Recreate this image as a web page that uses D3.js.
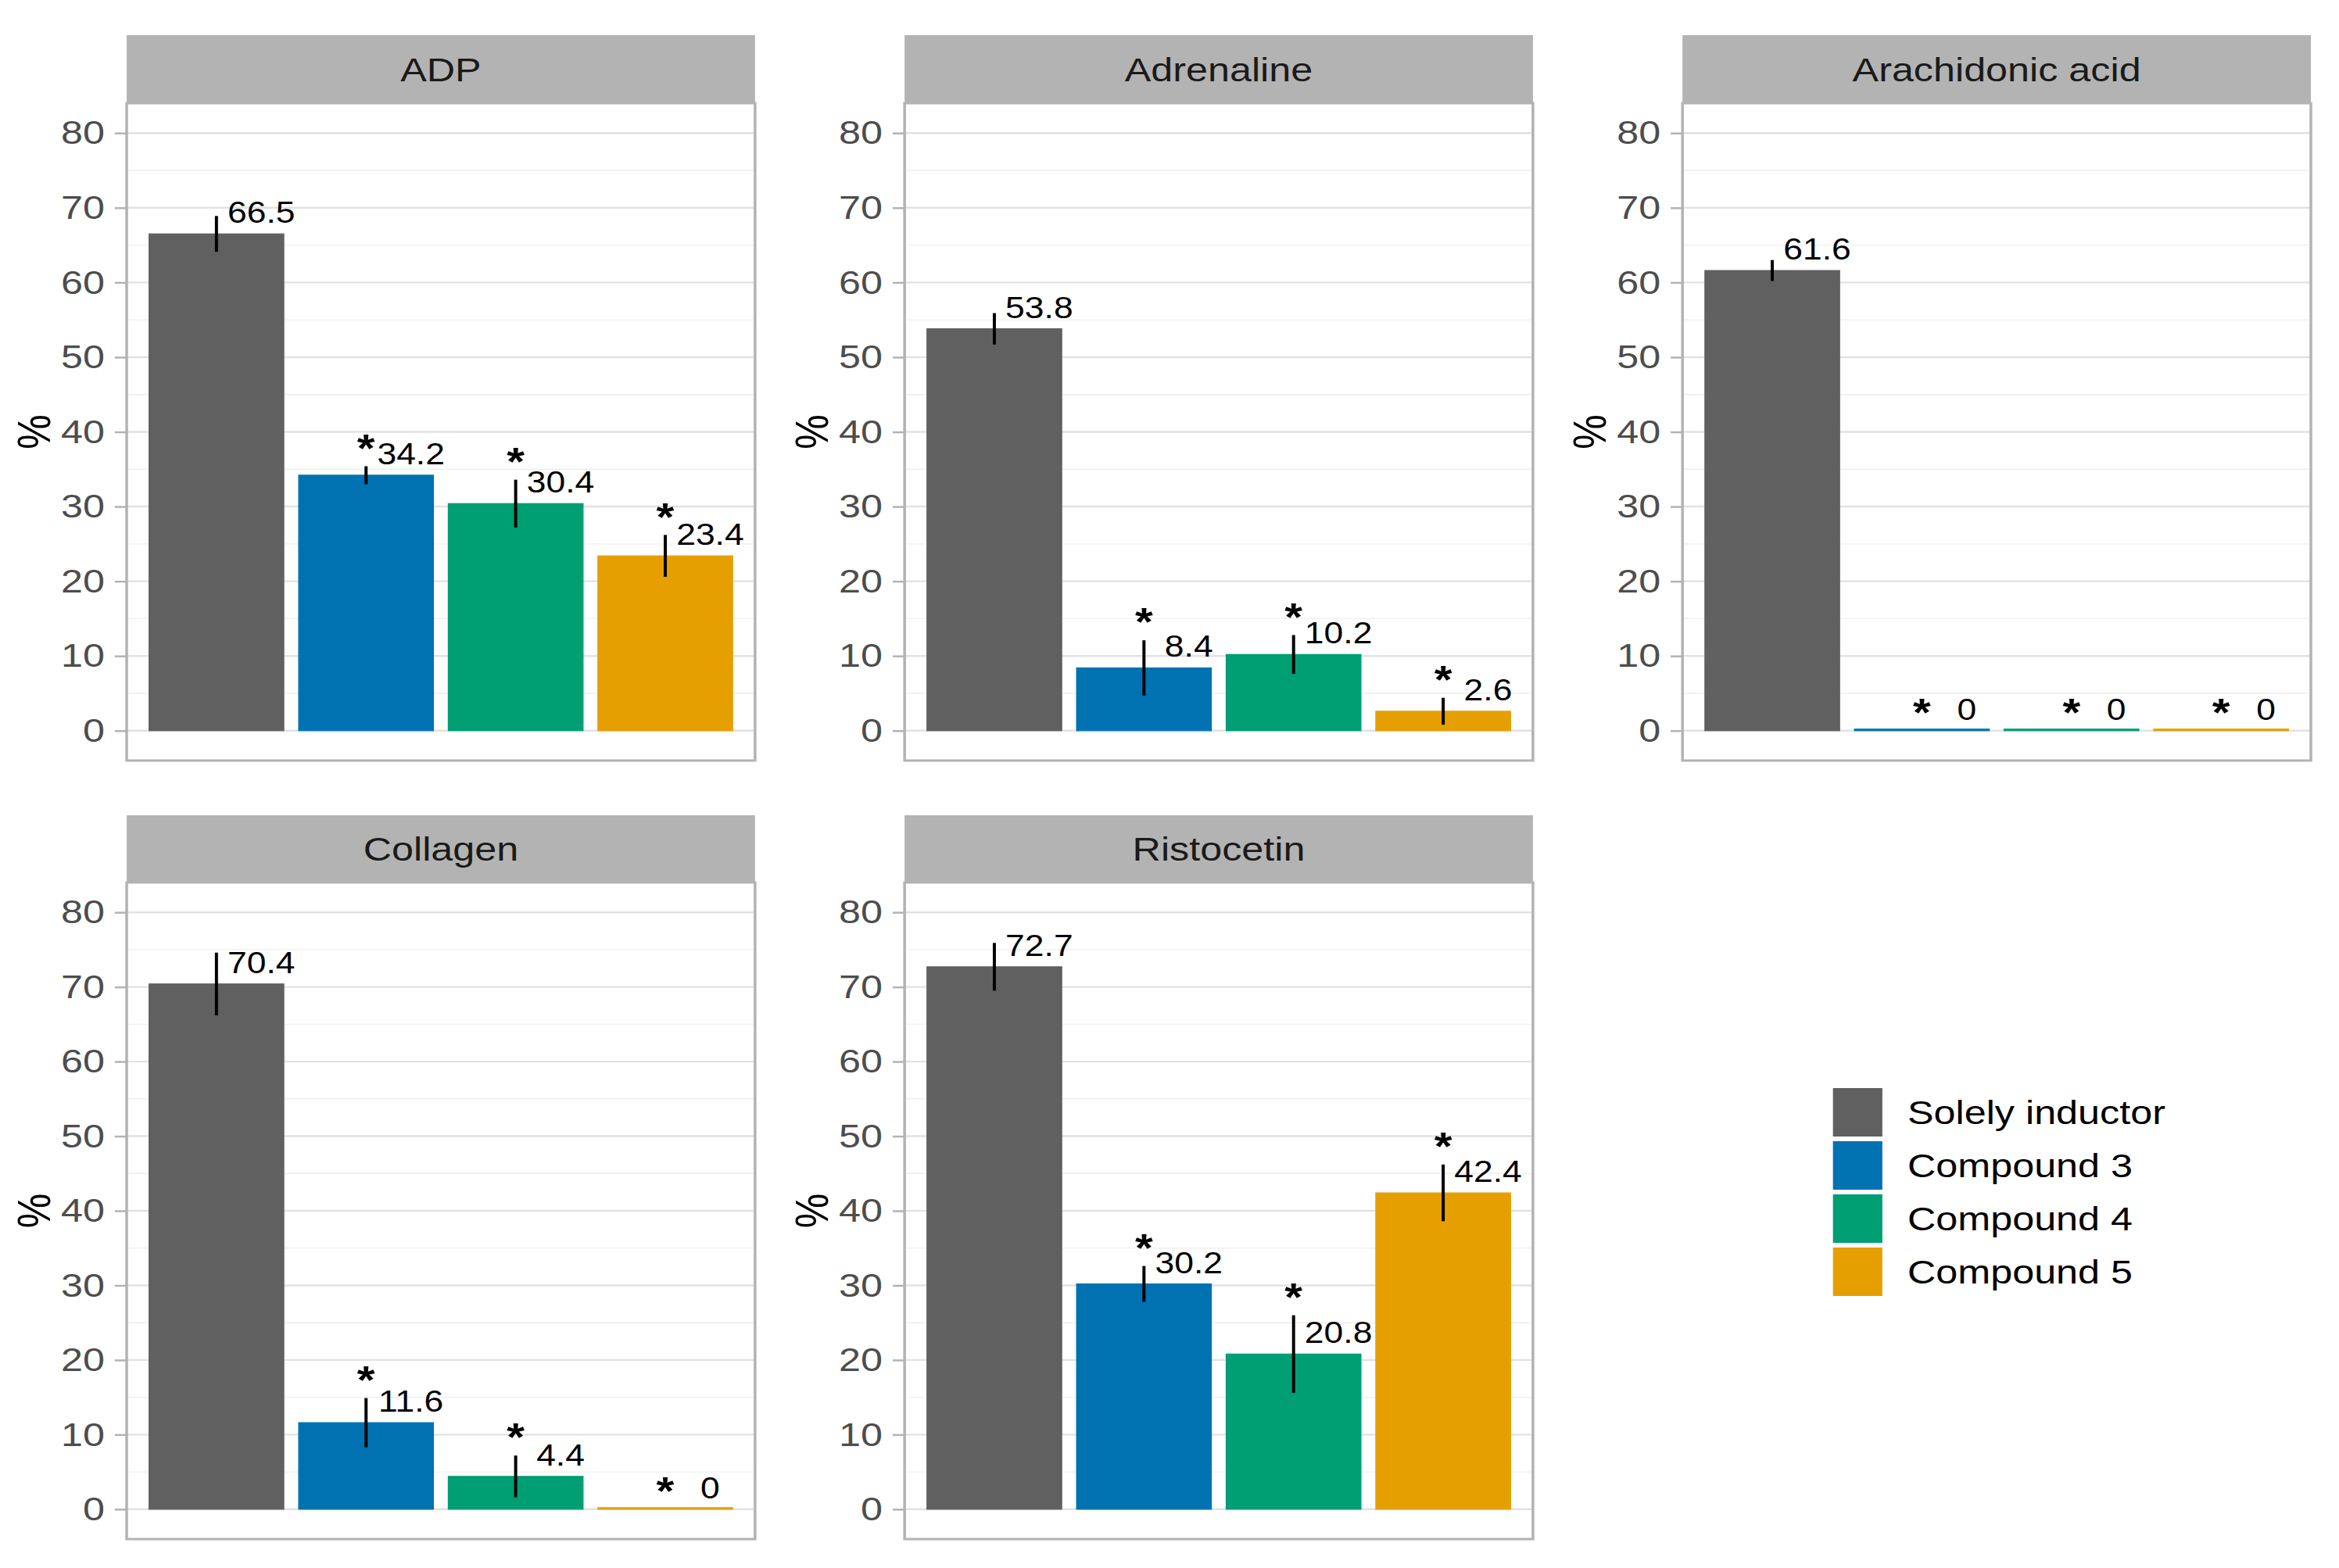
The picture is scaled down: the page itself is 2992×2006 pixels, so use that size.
<!DOCTYPE html>
<html>
<head>
<meta charset="utf-8">
<script src="https://cdn.jsdelivr.net/npm/d3@7"></script>
<style>
  body { margin: 0; background: #fff; }
  text { font-family: "Liberation Sans", Arial, sans-serif; }
</style>
</head>
<body>
<div class="graph"></div>
<script>
// platelet aggregation by inducer (panels) and treatment (bars)
var inducers = ['ADP', 'Adrenaline', 'Arachidonic acid', 'Collagen', 'Ristocetin'];
var groups = ['Solely inductor', 'Compound 3', 'Compound 4', 'Compound 5'];

// means, one array per group, in the order of inducers
var meanSolely = [66.5, 53.8, 61.6, 70.4, 72.7];
var meanC3 = [34.2, 8.4, 0, 11.6, 30.2];
var meanC4 = [30.4, 10.2, 0, 4.4, 20.8];
var meanC5 = [23.4, 2.6, 0, 0, 42.4];

// error bar half-lengths
var sdSolely = [2.4, 2.1, 1.4, 4.2, 3.2];
var sdC3 = [1.2, 3.7, 0, 3.3, 2.4];
var sdC4 = [3.2, 2.6, 0, 2.8, 5.2];
var sdC5 = [2.8, 1.8, 0, 0, 3.8];

// significance marks
var sigSolely = [false, false, false, false, false];
var sigC3 = [true, true, true, true, true];
var sigC4 = [true, true, true, true, true];
var sigC5 = [true, true, true, true, true];

var yTicks = [0, 10, 20, 30, 40, 50, 60, 70, 80];
var colors = ['#606060', '#0072B2', '#009E73', '#E69F00'];

var means = [meanSolely, meanC3, meanC4, meanC5];
var sds = [sdSolely, sdC3, sdC4, sdC5];
var sigs = [sigSolely, sigC3, sigC4, sigC5];

// the source figure is stretched sideways, so draw narrower and stretch the svg
var stretch = 1.17;
var W = 2992 / stretch, H = 2006;

var svg = d3.select('.graph')
  .append('svg')
  .attr('width', 2992)
  .attr('height', H)
  .attr('viewBox', '0 0 ' + W + ' ' + H)
  .attr('preserveAspectRatio', 'none');

var panelW = 687;
var colX = [138.5, 989, 1839.5];
var rows = [
  { strip: 45, top: 132, bottom: 973 },
  { strip: 1043, top: 1129, bottom: 1969 }
];

var color = d3.scaleOrdinal().domain(groups).range(colors);
var minorTicks = d3.pairs(yTicks).map(function (p) { return (p[0] + p[1]) / 2; });

inducers.forEach(function (name, i) {
  var row = rows[Math.floor(i / 3)];
  var h = row.bottom - row.top;
  var bars = groups.map(function (g, j) {
    return { group: g, mean: means[j][i], sd: sds[j][i], sig: sigs[j][i] };
  });

  var x = d3.scaleBand().domain(groups).range([0, panelW])
    .paddingInner(0.1).paddingOuter(0.15);
  var y = d3.scaleLinear().domain([-4, 84]).range([h, 0]);

  var g = svg.append('g')
    .attr('transform', 'translate(' + colX[i % 3] + ',' + row.top + ')');

  // strip
  g.append('rect')
    .attr('x', 0).attr('y', row.strip - row.top)
    .attr('width', panelW).attr('height', row.top - row.strip)
    .attr('fill', '#B3B3B3');
  g.append('text')
    .attr('x', panelW / 2)
    .attr('y', (row.strip - row.top) / 2 + 0.36 * 43)
    .attr('text-anchor', 'middle')
    .attr('font-size', 43)
    .attr('fill', '#1A1A1A')
    .text(name);

  // grid
  g.selectAll('line.minor').data(minorTicks).enter().append('line')
    .attr('class', 'minor')
    .attr('x1', 0).attr('x2', panelW)
    .attr('y1', y).attr('y2', y)
    .attr('stroke', '#EFEFEF').attr('stroke-width', 1.4);
  g.selectAll('line.major').data(yTicks).enter().append('line')
    .attr('class', 'major')
    .attr('x1', 0).attr('x2', panelW)
    .attr('y1', y).attr('y2', y)
    .attr('stroke', '#E2E2E2').attr('stroke-width', 2.4);

  // y axis
  var axis = g.append('g')
    .call(d3.axisLeft(y).tickValues(yTicks).tickSize(13).tickPadding(11));
  axis.select('.domain').remove();
  axis.attr('font-size', 43).attr('font-family', '"Liberation Sans", Arial, sans-serif');
  axis.selectAll('line').attr('stroke', '#B3B3B3').attr('stroke-width', 2.5);
  axis.selectAll('text').attr('fill', '#4D4D4D');

  g.append('text')
    .attr('transform', 'translate(-102,' + h / 2 + ') rotate(-90)')
    .attr('dy', '0.36em')
    .attr('text-anchor', 'middle')
    .attr('font-size', 50)
    .attr('fill', '#000')
    .text('%');

  // bars (zero bars still show as a thin line, like the original)
  g.selectAll('rect.bar').data(bars).enter().append('rect')
    .attr('class', 'bar')
    .attr('x', function (d) { return x(d.group); })
    .attr('width', x.bandwidth())
    .attr('y', function (d) { return Math.min(y(d.mean), y(0) - 2); })
    .attr('height', function (d) { return Math.max(y(0) - y(d.mean), 2); })
    .attr('fill', function (d) { return color(d.group); })
    .attr('stroke', function (d) { return color(d.group); })
    .attr('stroke-width', 1.2);

  // error bars
  g.selectAll('line.err').data(bars.filter(function (d) { return d.sd > 0; }))
    .enter().append('line')
    .attr('class', 'err')
    .attr('x1', function (d) { return x(d.group) + x.bandwidth() / 2; })
    .attr('x2', function (d) { return x(d.group) + x.bandwidth() / 2; })
    .attr('y1', function (d) { return y(d.mean + d.sd); })
    .attr('y2', function (d) { return y(d.mean - d.sd); })
    .attr('stroke', '#000').attr('stroke-width', 3.4);

  // significance stars
  g.selectAll('text.star').data(bars.filter(function (d) { return d.sig; }))
    .enter().append('text')
    .attr('class', 'star')
    .attr('x', function (d) { return x(d.group) + x.bandwidth() / 2; })
    .attr('y', function (d) { return y(d.mean + d.sd + 3) + 0.46 * 50; })
    .attr('text-anchor', 'middle')
    .attr('font-size', 50)
    .attr('font-weight', 'bold')
    .text('*');

  // value labels
  g.selectAll('text.val').data(bars).enter().append('text')
    .attr('class', 'val')
    .attr('x', function (d) { return x(d.group) + x.bandwidth() / 2 + 0.3 * x.step(); })
    .attr('y', function (d) { return y(d.mean + 2.9) + 0.36 * 38; })
    .attr('text-anchor', 'middle')
    .attr('font-size', 38)
    .attr('fill', '#000')
    .text(function (d) { return String(d.mean); });

  // panel border
  g.append('rect')
    .attr('width', panelW).attr('height', h)
    .attr('fill', 'none')
    .attr('stroke', '#B3B3B3').attr('stroke-width', 3);
});

// legend
var legend = svg.append('g')
  .attr('class', 'legend')
  .attr('transform', 'translate(2004,1392)');
var item = legend.selectAll('g').data(groups).enter().append('g')
  .attr('transform', function (d, i) { return 'translate(0,' + i * 68 + ')'; });
item.append('rect')
  .attr('width', 54).attr('height', 62)
  .attr('fill', function (d) { return color(d); });
item.append('text')
  .attr('x', 81.5)
  .attr('y', 31 + 0.36 * 43)
  .attr('font-size', 43)
  .attr('fill', '#000')
  .text(function (d) { return d; });
</script>
</body>
</html>
